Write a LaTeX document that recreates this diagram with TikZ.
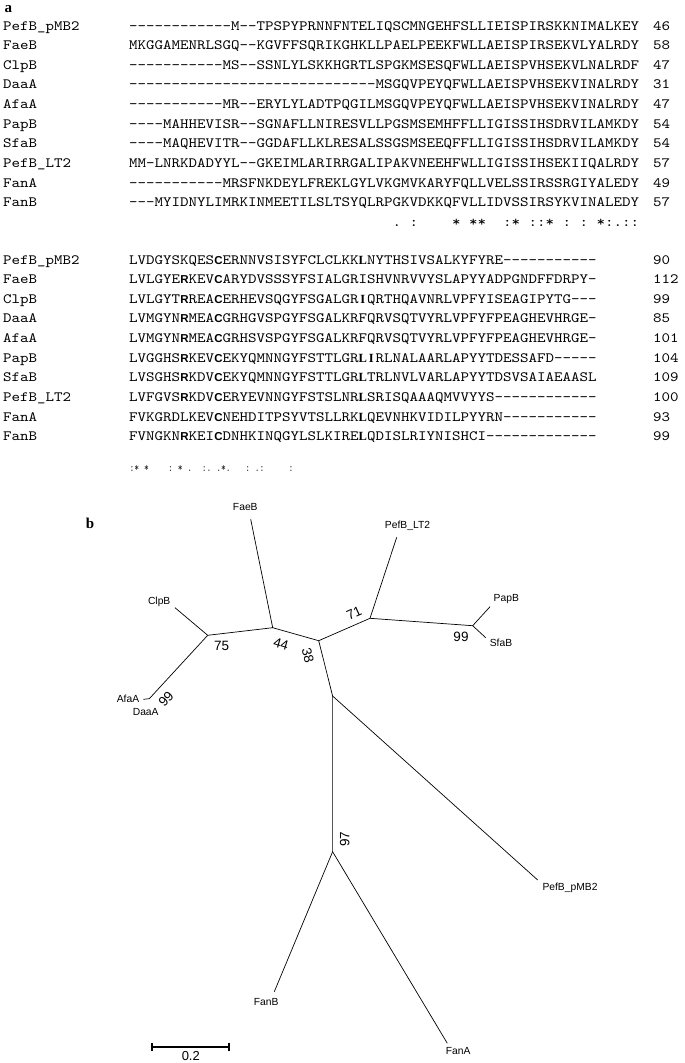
\documentclass[tikz,border=0pt]{standalone}
\usepackage{fontspec}
\setmainfont{Liberation Serif}
\newfontfamily\monof{lmmono10-regular.otf}[Ligatures=TeXOff, FakeStretch=1.14]
\newfontfamily\sansf{Liberation Sans}
\newcommand\BR[1]{\makebox[8.5pt][c]{\sansf\bfseries\fontsize{11.5}{13}\selectfont #1}}
\newcommand\BM[1]{\makebox[8.5pt][c]{\rmfamily\bfseries\fontsize{12.5}{14}\selectfont #1}}
\begin{document}
\begin{tikzpicture}[x=1pt,y=-1pt,
  seq/.style={anchor=base west, inner sep=0pt, font=\monof\fontsize{14.2}{16}\selectfont},
  cons2/.style={anchor=base west, inner sep=0pt, xscale=0.7, font=\monof\fontsize{11.5}{13}\selectfont, text=black!90},
  panel/.style={inner sep=0pt, font=\bfseries\fontsize{15}{17}\selectfont},
  lab/.style={inner sep=0pt, font=\sansf\fontsize{10.3}{12}\selectfont},
  bs/.style={inner sep=0pt, font=\sansf\fontsize{13.5}{15}\selectfont},
  branch/.style={line width=0.7pt, line join=round},
  bar/.style={line width=2.2pt}]
\useasboundingbox (0,0) rectangle (685,1063);

% ---------- panel a ----------
\node[panel] (pa) at (8.5,9) {a};

\foreach \nm/\sq/\nu [count=\i from 0] in {
  PefB\_pMB2/{------------M--TPSPYPRNNFNTELIQSCMNGEHFSLLIEISPIRSKKNIMALKEY}/46,
  FaeB/{MKGGAMENRLSGQ--KGVFFSQRIKGHKLLPAELPEEKFWLLAEISPIRSEKVLYALRDY}/58,
  ClpB/{-----------MS--SSNLYLSKKHGRTLSPGKMSESQFWLLAEISPVHSEKVLNALRDF}/47,
  DaaA/{-----------------------------MSGQVPEYQFWLLAEISPVHSEKVINALRDY}/31,
  AfaA/{-----------MR--ERYLYLADTPQGILMSGQVPEYQFWLLAEISPVHSEKVINALRDY}/47,
  PapB/{----MAHHEVISR--SGNAFLLNIRESVLLPGSMSEMHFFLLIGISSIHSDRVILAMKDY}/54,
  SfaB/{----MAQHEVITR--GGDAFLLKLRESALSSGSMSEEQFFLLIGISSIHSDRVILAMKDY}/54,
  PefB\_LT2/{MM-LNRKDADYYL--GKEIMLARIRRGALIPAKVNEEHFWLLIGISSIHSEKIIQALRDY}/57,
  FanA/{-----------MRSFNKDEYLFREKLGYLVKGMVKARYFQLLVELSSIRSSRGIYALEDY}/49,
  FanB/{---MYIDNYLIMRKINMEETILSLTSYQLRPGKVDKKQFVLLIDVSSIRSYKVINALEDY}/57}
{
  \pgfmathsetmacro\yy{30+19.63*\i}
  \node[seq] (na\i) at (3,\yy) {\nm};
  \node[seq] (sa\i) at (129,\yy) {\sq};
  \node[seq] (ua\i) at (653,\yy) {\nu};
}
\node[seq] (ca) at (392.5,226.5) {.~:~~~~*~**~~:*~::*~:~:~*:.::};

\foreach \nm/\sq/\nu [count=\i from 0] in {
  PefB\_pMB2/{LVDGYSKQES\BR{C}ERNNVSISYFCLCLKK\BM{L}NYTHSIVSALKYFYRE-----------}/90,
  FaeB/{LVLGYE\BR{R}KEV\BR{C}ARYDVSSSYFSIALGRISHVNRVVYSLAPYYADPGNDFFDRPY-}/112,
  ClpB/{LVLGYT\BR{R}REA\BR{C}ERHEVSQGYFSGALGR\BM{I}QRTHQAVNRLVPFYISEAGIPYTG---}/99,
  DaaA/{LVMGYN\BR{R}MEA\BR{C}GRHGVSPGYFSGALKRFQRVSQTVYRLVPFYFPEAGHEVHRGE-}/85,
  AfaA/{LVMGYN\BR{R}MEA\BR{C}GRHSVSPGYFSGALKRFQRVSQTVYRLVPFYFPEAGHEVHRGE-}/101,
  PapB/{LVGGHS\BR{R}KEV\BR{C}EKYQMNNGYFSTTLGR\BM{L}\BM{I}RLNALAARLAPYYTDESSAFD-----}/104,
  SfaB/{LVSGHS\BR{R}KDV\BR{C}EKYQMNNGYFSTTLGR\BM{L}TRLNVLVARLAPYYTDSVSAIAEAASL}/109,
  PefB\_LT2/{LVFGVS\BR{R}KDV\BR{C}ERYEVNNGYFSTSLNR\BM{L}SRISQAAAQMVVYYS------------}/100,
  FanA/{FVKGRDLKEV\BR{C}NEHDITPSYVTSLLRK\BM{L}QEVNHKVIDILPYYRN-----------}/93,
  FanB/{FVNGKN\BR{R}KEI\BR{C}DNHKINQGYLSLKIRE\BM{L}QDISLRIYNISHCI-------------}/99}
{
  \pgfmathsetmacro\yy{264+19.63*\i}
  \node[seq] (nb\i) at (3,\yy) {\nm};
  \node[seq] (sb\i) at (129,\yy) {\sq};
  \node[seq] (ub\i) at (653,\yy) {\nu};
}
\node[cons2] (cb) at (129.5,471) {:*~*~~~~:~*~.~~:.~.*.~~~:~.:~~~~~:};

% ---------- panel b ----------
\node[panel] (pb) at (90,523) {b};

\coordinate (tFaeB) at (250.7,519.3);
\coordinate (n44) at (272.7,627.7);
\coordinate (n75) at (207.7,635.3);
\coordinate (tClpB) at (175,607.7);
\coordinate (nAD) at (149.3,698.7);
\coordinate (tAD) at (143.3,699.3);
\coordinate (n38) at (318.7,640.7);
\coordinate (n71) at (370,618.3);
\coordinate (tLT2) at (396.7,537.3);
\coordinate (n99) at (472.7,625.7);
\coordinate (tPapB) at (490,606.7);
\coordinate (tSfaB) at (485.7,637.7);
\coordinate (nC) at (332.6,696);
\coordinate (n97) at (332.6,851.7);
\coordinate (tpMB2) at (537.7,880);
\coordinate (tFanB) at (274.3,991.7);
\coordinate (tFanA) at (447.3,1043.3);

\draw[branch] (tFaeB) -- (n44) -- (n75) -- (tClpB);
\draw[branch] (n75) -- (nAD) -- (tAD);
\draw[branch] (n44) -- (n38) -- (n71) -- (tLT2);
\draw[branch] (n71) -- (n99) -- (tPapB);
\draw[branch] (n99) -- (tSfaB);
\draw[branch] (n38) -- (nC) -- (n97) -- (tFanB);
\draw[branch] (n97) -- (tFanA);
\draw[branch] (nC) -- (tpMB2);

\node[lab] (lFaeB) at (245.3,506.7) {FaeB};
\node[lab] (lClpB) at (159.2,602) {ClpB};
\node[lab] (lAfaA) at (128,699.3) {AfaA};
\node[lab] (lDaaA) at (145.7,712) {DaaA};
\node[lab] (lLT2) at (407.5,526) {PefB\_LT2};
\node[lab] (lPapB) at (506.3,599.5) {PapB};
\node[lab] (lSfaB) at (501,643.3) {SfaB};
\node[lab] (lpMB2) at (570,887.5) {PefB\_pMB2};
\node[lab] (lFanB) at (266.2,1001.7) {FanB};
\node[lab] (lFanA) at (458.2,1051.2) {FanA};

\node[bs] (b75) at (221.7,646) {75};
\node[bs,rotate=-16] (b44) at (281,644) {44};
\node[bs,rotate=-76] (b38) at (308,655.5) {38};
\node[bs,rotate=24] (b71) at (354,613.5) {71};
\node[bs] (b99a) at (461,636.7) {99};
\node[bs,rotate=47] (b99b) at (166,699) {99};
\node[bs,rotate=90] (b97) at (344.7,839.2) {97};

\coordinate (sbA) at (152.3,1046.7);
\coordinate (sbB) at (229,1046.7);
\coordinate (sbA1) at (152.3,1042.5);
\coordinate (sbA2) at (152.3,1051);
\coordinate (sbB1) at (229,1042.5);
\coordinate (sbB2) at (229,1051);
\draw[bar] (sbA) -- (sbB);
\draw[line width=2pt] (sbA1) -- (sbA2);
\draw[line width=2pt] (sbB1) -- (sbB2);
\node[bs,font=\sansf\fontsize{13}{15}\selectfont] (sbl) at (190.8,1056.5) {0.2};
\end{tikzpicture}
\end{document}
